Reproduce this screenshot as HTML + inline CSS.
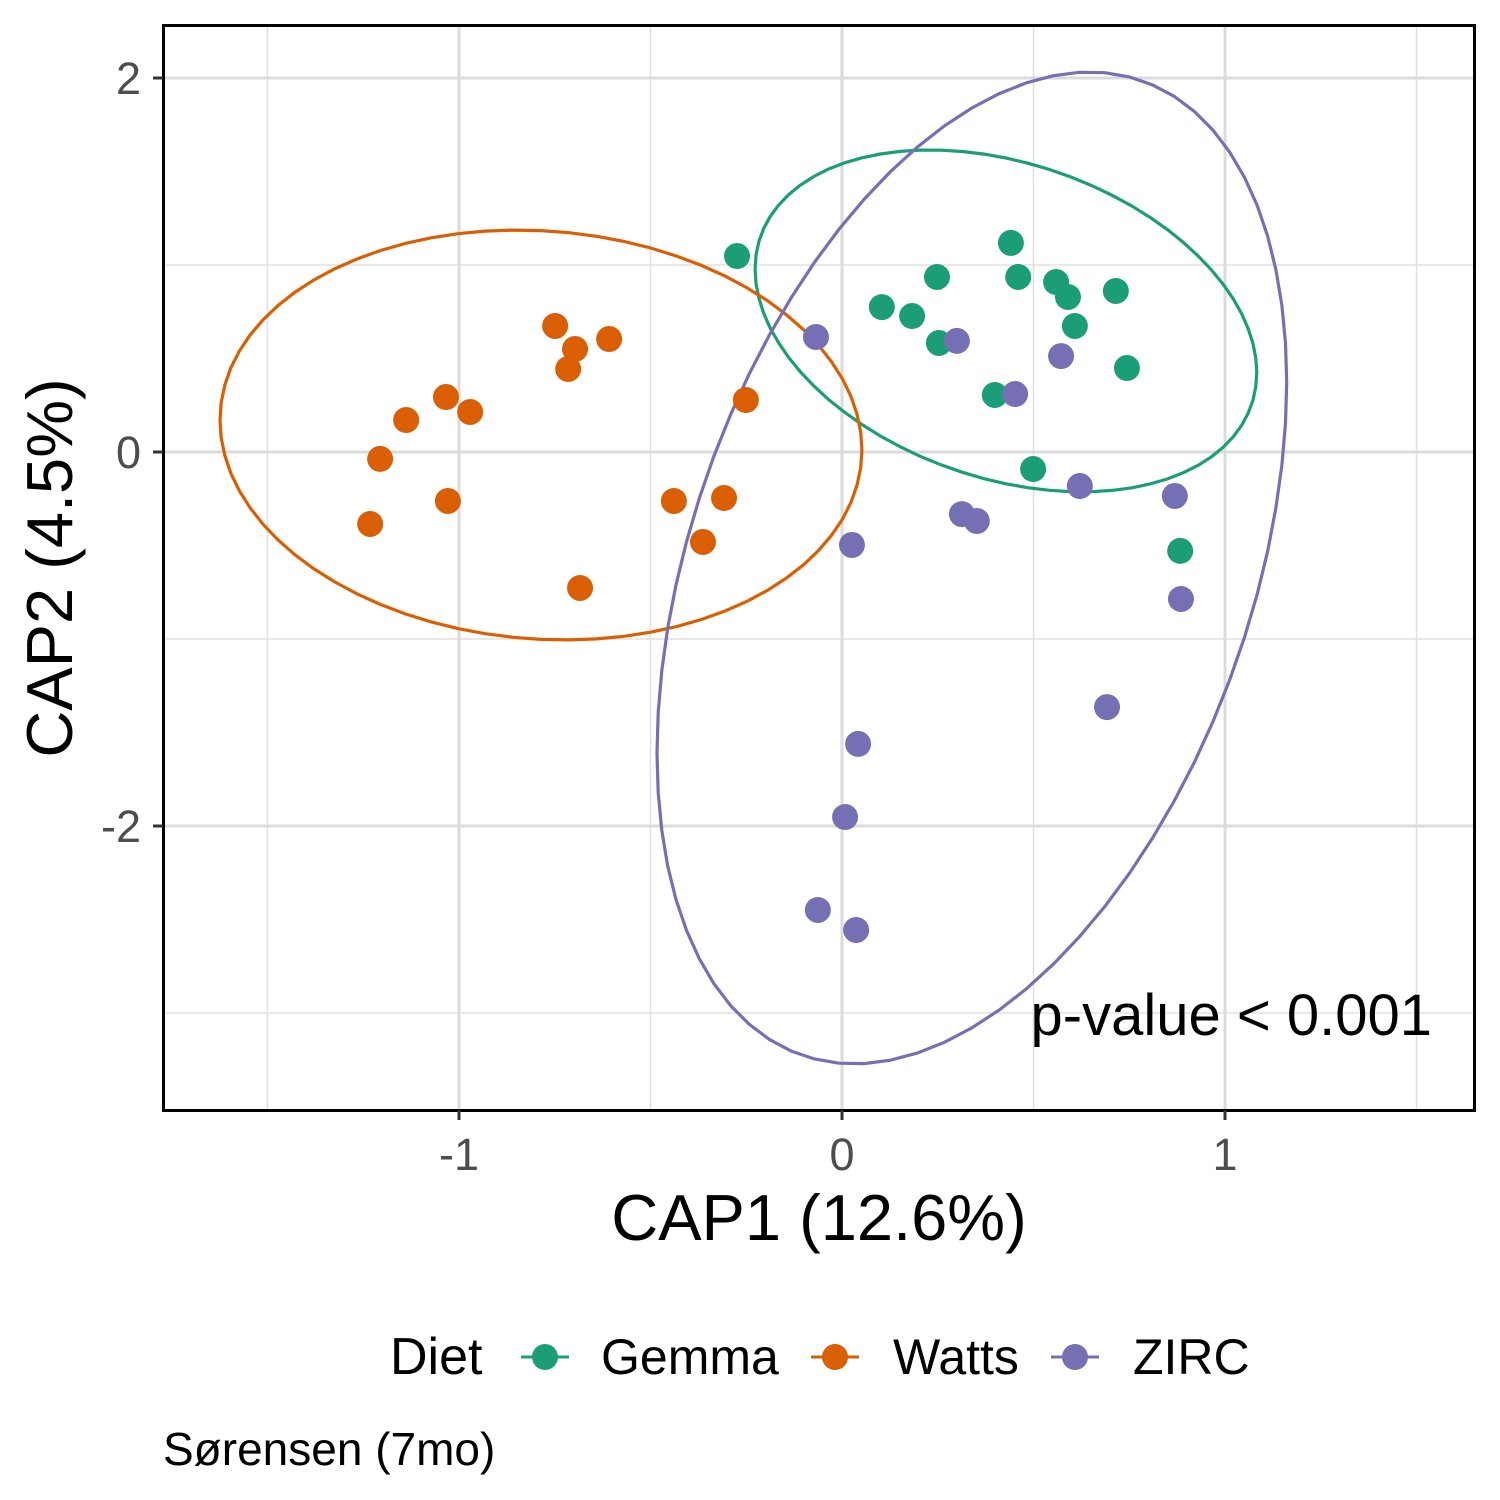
<!DOCTYPE html>
<html><head><meta charset="utf-8"><style>
body{margin:0;background:#fff}
svg{display:block}
text{font-family:"Liberation Sans",sans-serif}
</style></head><body>
<svg id="chart" width="1500" height="1500" xmlns="http://www.w3.org/2000/svg">
<rect x="0" y="0" width="1500" height="1500" fill="#fff"/>
<g id="grid"></g>
<g id="ellipses"></g>
<g id="points"></g>
<rect x="163.5" y="25.5" width="1311" height="1085" fill="none" stroke="#000" stroke-width="3"/>
<g id="ticks"></g>
<text x="1432" y="1035" font-size="58" text-anchor="end" fill="#000">p-value &lt; 0.001</text>
<text x="819" y="1240" font-size="65" text-anchor="middle" fill="#000">CAP1 (12.6%)</text>
<text x="0" y="0" font-size="65" text-anchor="middle" fill="#000" transform="translate(72,568) rotate(-90)">CAP2 (4.5%)</text>
<g>
<text x="390" y="1374" font-size="52" fill="#000">Diet</text>
<g id="legend"></g>
</g>
<text x="163" y="1465" font-size="46" fill="#000">Sørensen (7mo)</text>
</svg>
<script>
const groups = ["Gemma","Watts","ZIRC"];
const colors = ["#1b9e77","#d95f02","#7570b3"];
const gemmaX = [-0.274,0.441,0.248,0.460,0.559,0.590,0.715,0.104,0.183,0.608,0.253,0.744,0.399,0.499,0.883];
const gemmaY = [1.048,1.118,0.936,0.936,0.909,0.829,0.861,0.775,0.727,0.674,0.583,0.449,0.305,-0.091,-0.529];
const wattsX = [-0.749,-0.608,-0.697,-0.715,-1.034,-0.971,-1.138,-0.251,-1.206,-1.029,-0.439,-0.308,-1.232,-0.363,-0.684];
const wattsY = [0.674,0.604,0.551,0.444,0.294,0.214,0.171,0.278,-0.037,-0.262,-0.262,-0.246,-0.385,-0.481,-0.727];
const zircX = [-0.068,0.300,0.572,0.452,0.621,0.869,0.313,0.352,0.026,0.885,0.692,0.042,0.008,-0.063,0.037];
const zircY = [0.615,0.594,0.513,0.310,-0.182,-0.235,-0.332,-0.369,-0.497,-0.786,-1.364,-1.561,-1.952,-2.449,-2.556];
// ellipse stats per group: center x, center y, half-range x, half-range y, correlation
const ellCx = [0.428,-0.786,0.339];
const ellCy = [0.701,0.091,-0.620];
const ellHx = [0.655,0.838,0.822];
const ellHy = [0.914,1.096,2.652];
const ellR = [-0.303,-0.073,0.374];
const xMajor = [-1,0,1];
const xMajorLabels = ["-1","0","1"];
const xMinor = [-1.5,-0.5,0.5,1.5];
const yMajor = [2,0,-2];
const yMajorLabels = ["2","0","-2"];
const yMinor = [1,-1,-3];

const NS="http://www.w3.org/2000/svg";
const L=163,R=1475,T=25,B=1110;
function sx(v){return 842+v*383;}
function sy(v){return 452-v*187;}
function mk(tag,attrs,parent){const e=document.createElementNS(NS,tag);for(const k in attrs)e.setAttribute(k,attrs[k]);parent.appendChild(e);return e;}

const grid=document.getElementById('grid');
xMinor.forEach(v=>{const e=mk('line',{x1:sx(v),x2:sx(v),y1:T,y2:B,stroke:'#e0e0e0','stroke-width':1.5},grid);

});
yMinor.forEach(v=>{const y=sy(v);if(y<T||y>B)return;const e=mk('line',{x1:L,x2:R,y1:y,y2:y,stroke:'#e0e0e0','stroke-width':1.5},grid);

});
xMajor.forEach(v=>{const e=mk('line',{x1:sx(v),x2:sx(v),y1:T,y2:B,stroke:'#dbdbdb','stroke-width':3},grid);

});
yMajor.forEach(v=>{const e=mk('line',{x1:L,x2:R,y1:sy(v),y2:sy(v),stroke:'#dbdbdb','stroke-width':3},grid);

});

const ticks=document.getElementById('ticks');
xMajor.forEach((v,i)=>{const l=mk('line',{x1:sx(v),x2:sx(v),y1:B,y2:B+10,stroke:'#333','stroke-width':3},ticks);


const t=mk('text',{x:sx(v),y:1170,'font-size':45,'text-anchor':'middle',fill:'#4d4d4d'},ticks);t.textContent=xMajorLabels[i];

});
yMajor.forEach((v,i)=>{const l=mk('line',{x1:L-10,x2:L,y1:sy(v),y2:sy(v),stroke:'#333','stroke-width':3},ticks);


const t=mk('text',{x:141,y:sy(v)+16,'font-size':45,'text-anchor':'end',fill:'#4d4d4d'},ticks);t.textContent=yMajorLabels[i];

});

const ell=document.getElementById('ellipses');
groups.forEach((g,i)=>{let d='';const s=Math.sqrt(1-ellR[i]*ellR[i]);
for(let k=0;k<=72;k++){const t=k/72*2*Math.PI;const x=ellCx[i]+ellHx[i]*Math.cos(t);const y=ellCy[i]+ellHy[i]*(ellR[i]*Math.cos(t)+s*Math.sin(t));
d+=(k?'L':'M')+sx(x).toFixed(1)+','+sy(y).toFixed(1);}
const p=mk('path',{d:d+'Z',fill:'none',stroke:colors[i],'stroke-width':3.2},ell);

});

const pts=document.getElementById('points');
const xs=[gemmaX,wattsX,zircX],ys=[gemmaY,wattsY,zircY];
groups.forEach((g,i)=>{xs[i].forEach((x,j)=>{const c=mk('circle',{cx:sx(x),cy:sy(ys[i][j]),r:13,fill:colors[i]},pts);

});});

const leg=document.getElementById('legend');
const keyX=[545,835,1075],labX=[601,893,1133];
groups.forEach((g,i)=>{const gg=mk('g',{},leg);


mk('line',{x1:keyX[i]-24,x2:keyX[i]+24,y1:1357,y2:1357,stroke:colors[i],'stroke-width':3},gg);
mk('circle',{cx:keyX[i],cy:1357,r:13,fill:colors[i]},gg);
const t=mk('text',{x:labX[i],y:1374,'font-size':50,fill:'#000'},gg);t.textContent=g;});
</script>
</body></html>
